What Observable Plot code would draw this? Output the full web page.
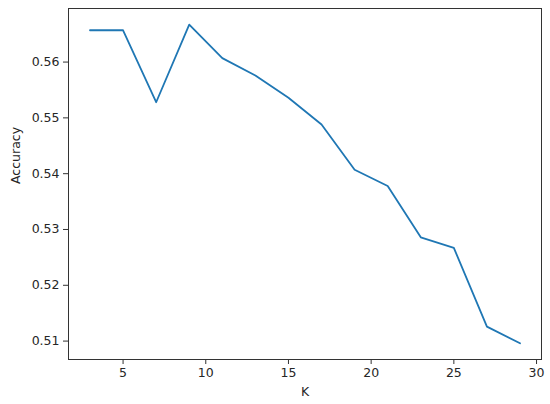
<!DOCTYPE html>
<html>
<head>
<meta charset="utf-8">
<script src="https://cdn.jsdelivr.net/npm/d3@7"></script>
<script src="https://cdn.jsdelivr.net/npm/@observablehq/plot@0.6"></script>
<style>
  html, body { margin: 0; padding: 0; background: #fff; }
  #chart svg { display: block; }
</style>
</head>
<body>
<div id="chart"></div>
<script>
const kValues = [3, 5, 7, 9, 11, 13, 15, 17, 19, 21, 23, 25, 27, 29];
const accuracy = [0.5657, 0.5657, 0.5528, 0.5667, 0.5607, 0.5576, 0.5536, 0.5488, 0.5407, 0.5378, 0.5286, 0.5267, 0.5126, 0.5096];
const xTicks = [5, 10, 15, 20, 25, 30];
const yTicks = [0.51, 0.52, 0.53, 0.54, 0.55, 0.56];
const xLabel = "K";
const yLabel = "Accuracy";

const data = kValues.map((k, i) => ({k, acc: accuracy[i]}));

const chart = Plot.plot({
  width: 550,
  height: 404,
  marginLeft: 68,
  marginRight: 9,
  marginTop: 8,
  marginBottom: 45,
  style: {fontFamily: "DejaVu Sans", fontSize: "12.5px", color: "#262626", background: "#fff"},
  x: {domain: [1.7, 30.3]},
  y: {domain: [0.5067, 0.5696]},
  marks: [
    Plot.axisX({ticks: xTicks, tickSize: 5, tickPadding: 4, tickFormat: d3.format("d"), fontSize: 12.5, label: null, stroke: "#333"}),
    Plot.axisY({ticks: yTicks, tickSize: 5, tickPadding: 4, tickFormat: d3.format(".2f"), fontSize: 12.5, label: null, stroke: "#333"}),
    Plot.text([xLabel], {frameAnchor: "bottom", dy: 36, fontSize: 12.5, fill: "#262626", text: d => d}),
    Plot.text([yLabel], {frameAnchor: "left", dx: -53, rotate: -90, fontSize: 12.5, fill: "#262626", text: d => d}),
    Plot.line(data, {x: "k", y: "acc", stroke: "#1f77b4", strokeWidth: 1.8}),
    Plot.frame({stroke: "#333", strokeWidth: 1})
  ]
});
document.getElementById("chart").append(chart);
</script>
</body>
</html>
